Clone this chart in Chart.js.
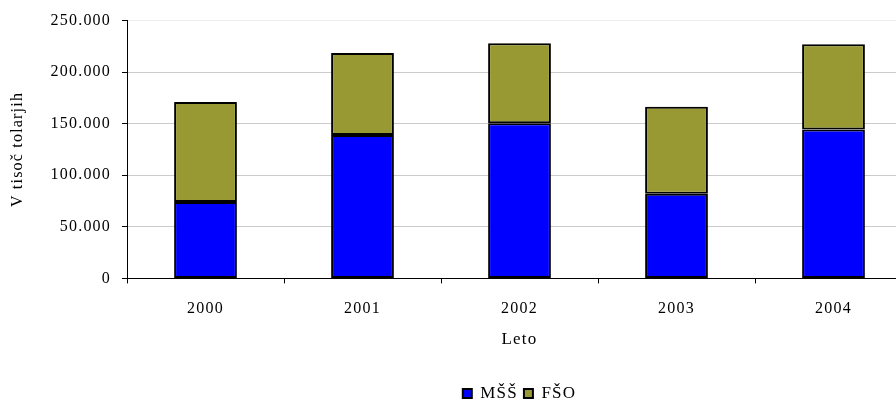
<!DOCTYPE html>
<html>
<head>
<meta charset="utf-8">
<script src="https://cdn.jsdelivr.net/npm/chart.js@4/dist/chart.umd.min.js"></script>
<style>
  html, body { margin: 0; padding: 0; background: #fff; overflow: hidden; }
</style>
</head>
<body>
<canvas id="chart" width="912" height="399"></canvas>
<script>
const years = ["2000", "2001", "2002", "2003", "2004"]
const mss = [74000, 139000, 150500, 82000, 144500]
const fso = [97000, 79500, 77500, 84500, 82500]
const yTicks = [0, 50000, 100000, 150000, 200000, 250000]

const serif = "'Liberation Serif', 'DejaVu Serif', serif"
Chart.defaults.font.family = serif
Chart.defaults.font.size = 17
Chart.defaults.color = "#000"

// Garamond-ish wide spacing
const spacing = {
  id: "spacing",
  beforeUpdate: (chart) => { chart.ctx.letterSpacing = "1.2px" },
  beforeDraw: (chart) => { chart.ctx.letterSpacing = "1.2px" },
}

new Chart(document.getElementById("chart"), {
  type: "bar",
  data: {
    labels: years,
    datasets: [
      { label: "MŠŠ", data: mss, backgroundColor: "#0000ff", borderColor: "#000", borderWidth: 2, borderSkipped: false },
      { label: "FŠO", data: fso, backgroundColor: "#999933", borderColor: "#000", borderWidth: 2, borderSkipped: false },
    ],
  },
  options: {
    responsive: false,
    animation: false,
    layout: { padding: { top: 12, left: 0, right: 0, bottom: -13 } },
    datasets: { bar: { barPercentage: 0.4, categoryPercentage: 1 } },
    plugins: {
      tooltip: { enabled: false },
      legend: {
        position: "bottom",
        fullSize: false,
        labels: { boxWidth: 9, boxHeight: 9, padding: 6, font: { size: 17 }, color: "#000" },
      },
    },
    scales: {
      x: {
        stacked: true,
        border: { color: "#000", width: 1 },
        grid: { offset: true, drawOnChartArea: false, tickLength: 5, tickColor: "#000" },
        ticks: { padding: 16, font: { size: 16 } },
        title: { display: true, text: "Leto", font: { size: 17 }, padding: { top: -5, bottom: 29 } },
      },
      y: {
        stacked: true,
        min: 0,
        max: 250000,
        afterBuildTicks: (axis) => { axis.ticks = yTicks.map(v => ({ value: v })) },
        afterFit: (axis) => { axis.width = 127 },
        border: { color: "#000", width: 1 },
        grid: {
          color: (c) => c.tick && c.tick.value === 250000 ? "#eeeeee" : "#cccccc",
          tickLength: 5,
          tickColor: "#000",
        },
        ticks: {
          padding: 11,
          font: { size: 16 },
          callback: (v) => v.toLocaleString("de-DE"),
        },
        title: { display: true, text: "V tisoč tolarjih", font: { size: 16 }, padding: { top: 8, bottom: 0 } },
      },
    },
  },
  plugins: [spacing],
})
</script>
</body>
</html>
